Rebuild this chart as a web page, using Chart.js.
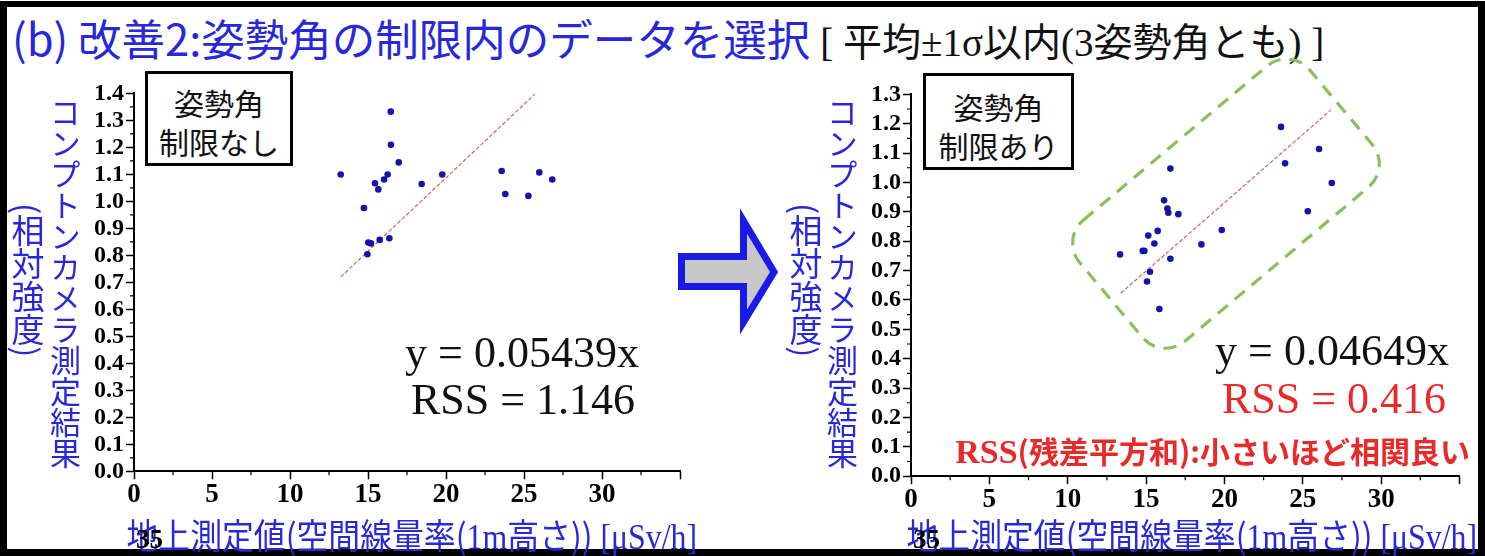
<!DOCTYPE html>
<html>
<head>
<meta charset="utf-8">
<script src="https://cdn.jsdelivr.net/npm/chart.js@4.4.1/dist/chart.umd.min.js"></script>
<style>
body { margin: 0; width: 1485px; height: 556px; overflow: hidden; background: #fff; position: relative; }
#frame { position: absolute; left: 0; top: 1px; width: 1485px; height: 555px; box-sizing: border-box; border: 7px solid #000; border-top-width: 6px; }
.abs { position: absolute; white-space: nowrap; }
.jp { font-family: "Noto Sans CJK JP", sans-serif; }
.serif { font-family: "Liberation Serif", "Noto Sans CJK JP", serif; }
canvas { position: absolute; }
#title { left: 12px; top: 16px; font-size: 43.5px; line-height: 44px; }
.blue { color: #2828d8; }
.tate { writing-mode: vertical-rl; line-height: 1; color: #2828d8; }
.box { border: 3px solid #000; box-sizing: border-box; text-align: center; font-size: 30px; line-height: 39px; color: #111; background: #fff; }
.eq { font-size: 44px; line-height: 44px; text-align: center; width: 300px; color: #111; }
.xt { font-size: 35px; line-height: 35px; color: #2828d8; transform: scaleX(0.91); transform-origin: right center; }
.lost35 { font-family: "Liberation Serif", serif; font-weight: bold; font-size: 27px; line-height: 27px; color: #000; }
</style>
</head>
<body>
<div id="frame"></div>

<div id="title" class="abs"><span class="jp blue">(b) 改善2:姿勢角の制限内のデータを選択</span><span class="serif" style="color:#111;font-size:39px;margin-left:10px">[ 平均±1σ以内(3姿勢角とも) ]</span></div>

<canvas id="leftChart" width="700" height="470" style="left:0px;top:60px"></canvas>
<canvas id="rightChart" width="720" height="495" style="left:760px;top:40px"></canvas>

<!-- vertical axis titles -->
<div class="abs jp tate" style="left:50px;top:97px;font-size:31px">コンプトンカメラ測定結果</div>
<div class="abs jp tate" style="left:11px;top:203px;font-size:33px">(相対強度)</div>
<div class="abs jp tate" style="left:827px;top:97px;font-size:31px">コンプトンカメラ測定結果</div>
<div class="abs jp tate" style="left:789px;top:203px;font-size:33px">(相対強度)</div>

<!-- x axis titles -->
<div class="abs xt" style="right:788px;top:516px"><span class="jp">地上測定値(空間線量率(</span><span class="serif">1m</span><span class="jp">高さ))</span><span class="serif"> [μSv/h]</span></div>
<div class="abs xt" style="right:8px;top:516px"><span class="jp">地上測定値(空間線量率(</span><span class="serif">1m</span><span class="jp">高さ))</span><span class="serif"> [μSv/h]</span></div>
<div class="abs lost35" style="left:136px;top:526px">35</div>
<div class="abs lost35" style="left:913px;top:526px">35</div>

<!-- labels -->
<div class="abs jp box" style="left:145px;top:71px;width:148px;height:95px;padding-top:9px">姿勢角<br>制限なし</div>
<div class="abs jp box" style="left:923px;top:73px;width:151px;height:97px;padding-top:11px">姿勢角<br>制限あり</div>

<div class="abs serif eq" style="left:372px;top:331px">y = 0.05439x</div>
<div class="abs serif eq" style="left:373px;top:378px">RSS = 1.146</div>
<div class="abs serif eq" style="left:1182px;top:329px">y = 0.04649x</div>
<div class="abs serif eq" style="left:1184px;top:377px;color:#e82a2a">RSS = 0.416</div>
<div class="abs" style="right:15px;top:433px;color:#e82a2a;font-weight:bold;line-height:34px"><span style="font-family:'Liberation Serif',serif;font-size:34px">RSS</span><span class="jp" style="font-size:30px">(残差平方和):小さいほど相関良い</span></div>

<!-- arrow -->
<svg class="abs" style="left:670px;top:200px" width="125" height="140">
  <polygon points="11.5,56.5 73.5,56.5 73.5,21 104,72 73.5,122 73.5,86.5 11.5,86.5" fill="#c8c8c8" stroke="#1a1ae8" stroke-width="7" stroke-linejoin="miter"/>
</svg>

<script>
// 姿勢角制限なし (left)
var leftX = [13.25, 16.46, 16.47, 16.97, 16.26, 16.03, 15.45, 15.66, 18.44, 19.76, 23.57,
             25.98, 26.81, 23.80, 25.28, 14.74, 15.02, 15.19, 15.75, 16.37, 14.96];
var leftY = [1.099, 1.332, 1.209, 1.144, 1.099, 1.081, 1.067, 1.044, 1.064, 1.099, 1.112,
             1.107, 1.081, 1.027, 1.020, 0.975, 0.847, 0.844, 0.857, 0.863, 0.804];
// fit line y = 0.05439x, ends
var leftFitX = [13.25, 25.7];
var leftFitY = [0.720, 1.397];

// 姿勢角制限あり (right)
var rightX = [23.61, 26.04, 23.87, 26.85, 25.32, 16.55, 16.15, 16.36, 16.42, 17.06, 15.74,
              15.14, 19.83, 15.53, 14.79, 14.89, 18.53, 13.34, 16.55, 15.25, 15.06, 15.85];
var rightY = [1.189, 1.114, 1.065, 0.998, 0.902, 1.047, 0.939, 0.911, 0.897, 0.892, 0.835,
              0.819, 0.838, 0.792, 0.767, 0.767, 0.789, 0.755, 0.740, 0.696, 0.663, 0.569];
// fit line y = 0.04649x
var rightFitX = [13.38, 26.8];
var rightFitY = [0.623, 1.247];

var xTickValues = [0, 5, 10, 15, 20, 25, 30, 35];
var leftYMax = 1.4;
var rightYMax = 1.3;

function toPoints(xs, ys) {
    return xs.map(function (x, i) { return { x: x, y: ys[i] }; });
}

// short ticks between the labelled ones
var minorTicks = {
    id: 'minorTicks',
    afterDraw: function (chart) {
        var ctx = chart.ctx, x = chart.scales.x, y = chart.scales.y;
        ctx.save();
        ctx.strokeStyle = '#000';
        ctx.lineWidth = 1.2;
        ctx.beginPath();
        for (var v = 2.5; v < x.max; v += 5) {
            var px = x.getPixelForValue(v);
            ctx.moveTo(px, y.bottom);
            ctx.lineTo(px, y.bottom + 4);
        }
        for (var w = 0.05; w < y.max; w += 0.1) {
            var py = y.getPixelForValue(w);
            ctx.moveTo(x.left, py);
            ctx.lineTo(x.left - 4, py);
        }
        ctx.stroke();
        ctx.restore();
    }
};

// green dashed rounded box around the selected points
var selectBox = {
    id: 'selectBox',
    afterDatasetsDraw: function (chart, args, opts) {
        if (!opts.show) return;
        var ctx = chart.ctx;
        var cx = chart.scales.x.getPixelForValue(opts.cx);
        var cy = chart.scales.y.getPixelForValue(opts.cy);
        var w = opts.len, h = opts.wid, r = opts.radius;
        ctx.save();
        ctx.translate(cx, cy);
        ctx.rotate(opts.angle * Math.PI / 180);
        ctx.strokeStyle = '#8cbf5a';
        ctx.lineWidth = 3.2;
        ctx.setLineDash([13, 9]);
        ctx.beginPath();
        ctx.moveTo(-w / 2 + r, -h / 2);
        ctx.arcTo(w / 2, -h / 2, w / 2, h / 2, r);
        ctx.arcTo(w / 2, h / 2, -w / 2, h / 2, r);
        ctx.arcTo(-w / 2, h / 2, -w / 2, -h / 2, r);
        ctx.arcTo(-w / 2, -h / 2, w / 2, -h / 2, r);
        ctx.closePath();
        ctx.stroke();
        ctx.restore();
    }
};

function makeChart(id, xs, ys, fx, fy, yMax, g, box) {
    return new Chart(document.getElementById(id), {
        type: 'scatter',
        data: {
            datasets: [{
                data: toPoints(xs, ys),
                backgroundColor: '#1414a8',
                borderWidth: 0,
                pointRadius: 3.3,
                order: 0
            }, {
                data: toPoints(fx, fy),
                showLine: true,
                borderColor: 'rgba(205, 70, 70, 0.85)',
                borderWidth: 1.2,
                borderDash: [4, 2],
                pointRadius: 0,
                order: 1
            }]
        },
        options: {
            responsive: false,
            animation: false,
            devicePixelRatio: 1,
            layout: { padding: { top: g.padTop, right: g.padRight, left: 0, bottom: 0 } },
            plugins: {
                legend: { display: false },
                tooltip: { enabled: false },
                selectBox: box
            },
            scales: {
                x: {
                    type: 'linear',
                    min: 0,
                    max: 35,
                    afterBuildTicks: function (s) {
                        s.ticks = xTickValues.map(function (v) { return { value: v }; });
                    },
                    afterFit: function (s) { s.height = g.xHeight; },
                    ticks: {
                        autoSkip: false,
                        maxRotation: 0,
                        padding: 0,
                        color: '#000',
                        font: { family: "'Liberation Serif', serif", size: 27, weight: 'bold' },
                        callback: function (v) { return v === 35 ? '' : String(v); }
                    },
                    grid: { drawOnChartArea: false, drawTicks: true, tickLength: 8, tickWidth: 1.5, tickColor: '#000' },
                    border: { display: true, color: '#000', width: 2 }
                },
                y: {
                    min: 0,
                    max: yMax,
                    afterFit: function (s) { s.width = g.yWidth; },
                    ticks: {
                        stepSize: 0.1,
                        autoSkip: false,
                        padding: 2,
                        color: '#000',
                        font: { family: "'Liberation Serif', serif", size: 24, weight: 'bold' },
                        callback: function (v) { return v.toFixed(1); }
                    },
                    grid: { drawOnChartArea: false, drawTicks: true, tickLength: 8, tickWidth: 1.5, tickColor: '#000' },
                    border: { display: true, color: '#000', width: 2 }
                }
            }
        },
        plugins: [minorTicks, selectBox]
    });
}

var leftChart = makeChart('leftChart', leftX, leftY, leftFitX, leftFitY, leftYMax,
    { yWidth: 134, xHeight: 58.7, padTop: 33.3, padRight: 20 }, { show: false });

var rightChart = makeChart('rightChart', rightX, rightY, rightFitX, rightFitY, rightYMax,
    { yWidth: 151, xHeight: 58.8, padTop: 54.3, padRight: 20.5 },
    { show: true, cx: 20.1, cy: 0.928, len: 300, wid: 158, angle: -40, radius: 30 });
</script>
</body>
</html>
